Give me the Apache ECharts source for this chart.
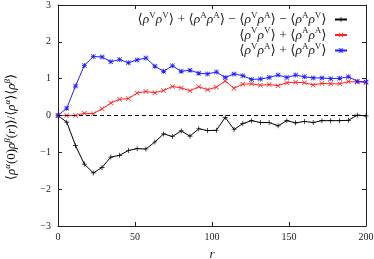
<!DOCTYPE html>
<html>
<head>
<meta charset="utf-8">
<script src="https://cdn.jsdelivr.net/npm/echarts@6/dist/echarts.min.js"></script>
<style>
html,body{margin:0;padding:0;background:#fff;}
#c{width:374px;height:259px;}
</style>
</head>
<body>
<div id="c"></div>
<script>
// ---- data ----
var rValues = [0, 5.7, 11.4, 17.1, 22.9, 28.6, 34.3, 40, 45.7, 51.4, 57.1, 62.9, 68.6, 74.3, 80, 85.7, 91.4, 97.1,
  102.9, 108.6, 114.3, 120, 125.7, 131.4, 137.1, 142.9, 148.6, 154.3, 160, 165.7, 171.4, 177.1, 182.9, 188.6, 194.3, 200];
var diffValues = [0, -0.18, -0.82, -1.32, -1.56, -1.41, -1.13, -1.08, -0.95, -0.90, -0.91, -0.72, -0.50, -0.57, -0.42, -0.56, -0.36, -0.41,
  -0.40, -0.05, -0.38, -0.22, -0.14, -0.19, -0.19, -0.28, -0.14, -0.20, -0.16, -0.19, -0.14, -0.14, -0.14, -0.13, 0.01, -0.01];
var sameValues = [0, 0.00, 0.00, 0.06, 0.05, 0.18, 0.34, 0.44, 0.46, 0.61, 0.65, 0.62, 0.68, 0.79, 0.75, 0.67, 0.78, 0.70,
  0.77, 0.94, 0.74, 0.85, 0.86, 0.82, 0.84, 0.81, 0.89, 0.90, 0.89, 0.83, 0.87, 0.86, 0.86, 0.92, 0.91, 0.90];
var mixedValues = [0, 0.20, 0.80, 1.36, 1.60, 1.59, 1.46, 1.52, 1.43, 1.51, 1.56, 1.34, 1.20, 1.35, 1.20, 1.23, 1.15, 1.13,
  1.18, 1.03, 1.13, 1.08, 0.98, 0.99, 1.03, 1.10, 1.03, 1.10, 1.05, 1.02, 1.02, 1.00, 1.01, 1.05, 0.93, 0.91];
var xTicks = [0, 50, 100, 150, 200];
var yTicks = [-3, -2, -1, 0, 1, 2, 3];
var seriesNames = ['diff', 'same', 'mixed'];

function pairs(xs, ys) { return xs.map(function (x, i) { return [x, ys[i]]; }); }
function corr(a, b) { return '{t|⟨}{i|ρ}{s|' + a + '}{i|ρ}{s|' + b + '}{t|⟩}'; }
var legendText = {
  diff: corr('V', 'V') + '{t| + }' + corr('A', 'A') + '{t| − }' + corr('V', 'A') + '{t| − }' + corr('A', 'V') + '{t| }',
  same: corr('V', 'V') + '{t| + }' + corr('A', 'A') + '{t| }',
  mixed: corr('V', 'A') + '{t| + }' + corr('A', 'V') + '{t| }'
};

var FONT = '"Liberation Serif", "DejaVu Serif", serif';
var TXT = '#222';
var legendRich = {
  t: { fontFamily: FONT, fontSize: 13.5, color: TXT, lineHeight: 17 },
  i: { fontFamily: FONT, fontSize: 13.5, fontStyle: 'italic', color: TXT, lineHeight: 17 },
  s: { fontFamily: FONT, fontSize: 9, color: TXT, lineHeight: 10, verticalAlign: 'top' }
};
var labelRich = {
  t: { fontFamily: FONT, fontSize: 13, color: TXT, lineHeight: 17 },
  i: { fontFamily: FONT, fontSize: 13, fontStyle: 'italic', color: TXT, lineHeight: 17 },
  si: { fontFamily: FONT, fontSize: 9, fontStyle: 'italic', color: TXT, lineHeight: 10, verticalAlign: 'top' }
};

var plusPath = 'path://M4.3,0H5.7V4.3H10V5.7H5.7V10H4.3V5.7H0V4.3H4.3Z';
var crossPath = 'path://M1,0L5,4L9,0L10,1L6,5L10,9L9,10L5,6L1,10L0,9L4,5L0,1Z';
var starPath = 'path://M4.3,0H5.7V4.3H10V5.7H5.7V10H4.3V5.7H0V4.3H4.3Z M1,0L5,4L9,0L10,1L6,5L10,9L9,10L5,6L1,10L0,9L4,5L0,1Z';

function fmtMinus(v) { return String(v).replace('-', '−'); }

var axisCommon = {
  axisLine: { show: true, onZero: false, lineStyle: { color: '#222', width: 1 } },
  axisTick: { show: true, inside: true, length: 4, lineStyle: { color: '#222', width: 1 } },
  splitLine: { show: false }
};

var chart = echarts.init(document.getElementById('c'), null, { renderer: 'canvas' });
chart.setOption({
  animation: false,
  backgroundColor: '#fff',
  grid: { left: 58, right: 8, top: 5, bottom: 33, containLabel: false, outerBoundsMode: 'none' },
  xAxis: [
    Object.assign({
      type: 'value', min: xTicks[0], max: xTicks[xTicks.length - 1], interval: 50, position: 'bottom',
      axisLabel: { fontFamily: FONT, fontSize: 10, color: TXT, margin: 6, formatter: fmtMinus },
      name: 'r', nameLocation: 'middle', nameGap: 22,
      nameTextStyle: { fontFamily: FONT, fontSize: 13, fontStyle: 'italic', color: TXT }
    }, axisCommon),
    Object.assign({
      type: 'value', min: xTicks[0], max: xTicks[xTicks.length - 1], interval: 50, position: 'top',
      axisLabel: { show: false }
    }, axisCommon)
  ],
  yAxis: [
    Object.assign({
      type: 'value', min: yTicks[0], max: yTicks[yTicks.length - 1], interval: 1, position: 'left',
      axisLabel: { fontFamily: FONT, fontSize: 10, color: TXT, margin: 7, formatter: fmtMinus }
    }, axisCommon),
    Object.assign({
      type: 'value', min: yTicks[0], max: yTicks[yTicks.length - 1], interval: 1, position: 'right',
      axisLabel: { show: false }
    }, axisCommon)
  ],
  legend: {
    orient: 'vertical', right: 21, top: 6, align: 'right',
    itemWidth: 12, itemHeight: 6, itemGap: 0,
    data: seriesNames,
    formatter: function (name) { return legendText[name]; },
    textStyle: { rich: legendRich }
  },
  graphic: [{
    type: 'text', x: 12, y: 127, rotation: Math.PI / 2,
    style: {
      text: '{t|⟨}{i|ρ}{si|α}{t|(0)}{i|ρ}{si|β}{t|(}{i|r}{t|)⟩/⟨}{i|ρ}{si|α}{t|⟩⟨}{i|ρ}{si|β}{t|⟩}',
      rich: labelRich, align: 'center', verticalAlign: 'middle'
    }
  }],
  series: [
    {
      name: 'diff', type: 'line', data: pairs(rValues, diffValues),
      symbol: plusPath, symbolSize: 5, showAllSymbol: true,
      lineStyle: { color: '#000', width: 1 }, itemStyle: { color: '#000', borderWidth: 0 },
      markLine: {
        silent: true, symbol: ['none', 'none'], label: { show: false },
        lineStyle: { color: '#000', type: [4, 3], width: 1 },
        data: [{ yAxis: 0 }]
      }
    },
    {
      name: 'same', type: 'line', data: pairs(rValues, sameValues),
      symbol: crossPath, symbolSize: 5, showAllSymbol: true,
      lineStyle: { color: '#ff2020', width: 1 }, itemStyle: { color: '#ff2020', borderWidth: 0 }
    },
    {
      name: 'mixed', type: 'line', data: pairs(rValues, mixedValues),
      symbol: starPath, symbolSize: 5, showAllSymbol: true,
      lineStyle: { color: '#2020ff', width: 1 }, itemStyle: { color: '#2020ff', borderWidth: 0 }
    }
  ]
});
</script>
</body>
</html>
